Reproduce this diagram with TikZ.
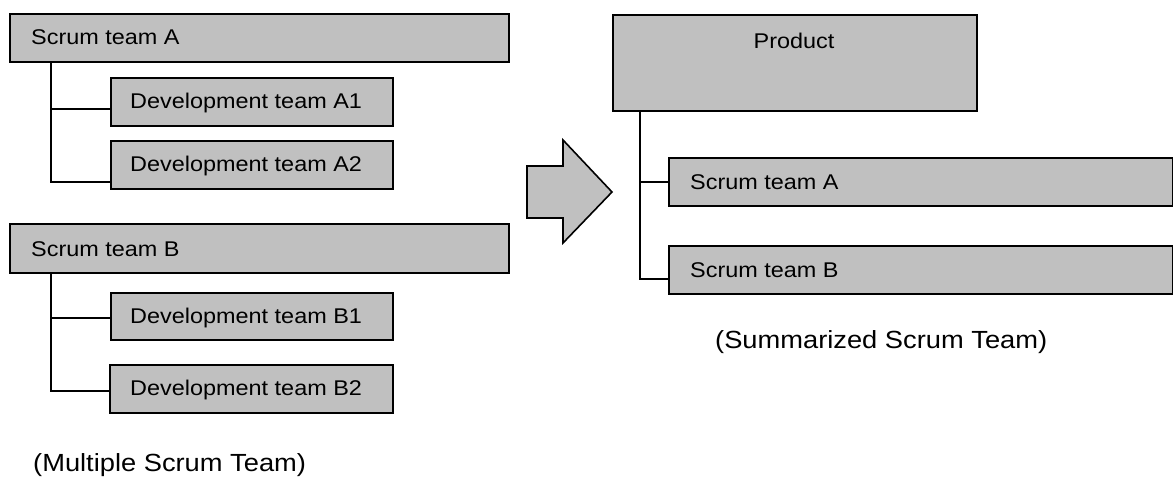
\documentclass[tikz,border=0pt]{standalone}
\usepackage{fontspec}
\setmainfont{Liberation Sans}[FakeStretch=1.1]
\begin{document}
\begin{tikzpicture}[x=1pt,y=-1pt,
  box/.style={draw=black,fill={rgb,255:red,192;green,192;blue,192},line width=1.7pt,
    rectangle,anchor=north west,inner sep=0pt},
  lbl/.style={inner sep=0pt,font=\fontsize{21.3}{24}\selectfont},
  captiontext/.style={inner sep=0pt,anchor=base west,font=\fontsize{24.8}{28}\selectfont},
  conn/.style={draw=black,line width=1.4pt}]
\useasboundingbox (0,0) rectangle (1173,477);

% left column: two scrum teams with their development teams
\node[box,minimum width=499pt,minimum height=48pt] (sA) at (9,13) {};
\node[box,minimum width=282pt,minimum height=48pt] (dA1) at (110,77) {};
\node[box,minimum width=282pt,minimum height=48pt] (dA2) at (110,140) {};
\node[box,minimum width=499pt,minimum height=49pt] (sB) at (9,223) {};
\node[box,minimum width=282pt,minimum height=47pt] (dB1) at (110,292) {};
\node[box,minimum width=283pt,minimum height=48pt] (dB2) at (109,364) {};

\node[lbl,anchor=base west] (tsA) at (31,44.5) {Scrum team A};
\node[lbl,anchor=base west] (tdA1) at (130,108.5) {Development team A1};
\node[lbl,anchor=base west] (tdA2) at (130,171.5) {Development team A2};
\node[lbl,anchor=base west] (tsB) at (31,256) {Scrum team B};
\node[lbl,anchor=base west] (tdB1) at (130,323) {Development team B1};
\node[lbl,anchor=base west] (tdB2) at (130,395.5) {Development team B2};

\draw[conn] ([xshift=42pt]sA.south west) |- ([yshift=-7pt]dA1.west);
\draw[conn] ([xshift=42pt]sA.south west) |- ([yshift=-17pt]dA2.west);
\draw[conn] ([xshift=42pt]sB.south west) |- ([yshift=-1.5pt]dB1.west);
\draw[conn] ([xshift=42pt]sB.south west) |- ([yshift=-2pt]dB2.west);

% transition arrow
\draw[draw=black,fill={rgb,255:red,192;green,192;blue,192},line width=1.6pt,line join=miter]
  (527,166) -- (563,166) -- (563,140) -- (612,192) -- (563,243) -- (563,218) -- (527,218) -- cycle;

% right column: one product over both scrum teams
\node[box,minimum width=364pt,minimum height=96pt] (prod) at (612,14) {};
\node[box,minimum width=504pt,minimum height=48pt] (rA) at (668,157) {};
\node[box,minimum width=504pt,minimum height=48pt] (rB) at (668,245) {};

\node[lbl,anchor=base] (tprod) at (794,48) {Product};
\node[lbl,anchor=base west] (trA) at (690,189) {Scrum team A};
\node[lbl,anchor=base west] (trB) at (690,277) {Scrum team B};

\draw[conn] ([xshift=28pt]prod.south west) |- (rA.west);
\draw[conn] ([xshift=28pt]prod.south west) |- ([yshift=-9pt]rB.west);

% captions
\node[captiontext] (cL) at (33,471) {(Multiple Scrum Team)};
\node[captiontext] (cR) at (715,348) {(Summarized Scrum Team)};
\end{tikzpicture}
\end{document}
